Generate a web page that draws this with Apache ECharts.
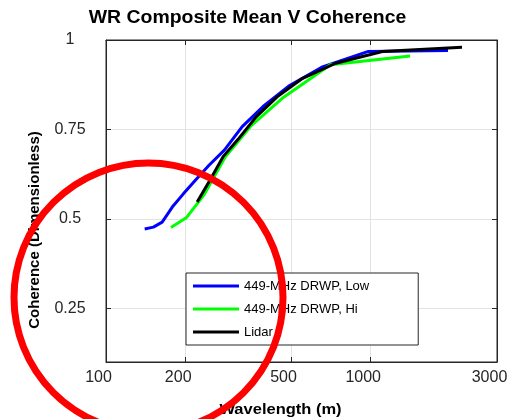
<!DOCTYPE html>
<html><head><meta charset="utf-8">
<script src="https://cdn.jsdelivr.net/npm/echarts@6/dist/echarts.min.js"></script>
<style>html,body{margin:0;padding:0;background:#fff}#c{width:511px;height:419px}</style>
</head><body><div id="c"></div>
<script>
const titleText = 'WR Composite Mean V Coherence';
const xAxisTitle = 'Wavelength (m)';
const yAxisTitle = 'Coherence (Dimensionless)';
const xTicks = [100, 200, 500, 1000, 3000];
const yTicks = [0.25, 0.5, 0.75, 1];
const seriesNames = ['449-MHz DRWP, Low', '449-MHz DRWP, Hi', 'Lidar'];
const seriesColors = ['#0000ff', '#00ff00', '#000000'];
const lowWavelength = [1959, 980, 653, 490, 392, 327, 280, 245, 218, 196, 178, 163, 151, 140];
const lowCoherence = [0.971, 0.968, 0.924, 0.871, 0.814, 0.758, 0.692, 0.650, 0.609, 0.570, 0.533, 0.491, 0.477, 0.472];
const hiWavelength = [1408, 704, 469, 352, 282, 235, 201, 176];
const hiCoherence = [0.955, 0.931, 0.840, 0.759, 0.673, 0.568, 0.503, 0.476];
const lidarWavelength = [2213, 1107, 738, 553, 443, 369, 316, 277, 246, 221];
const lidarCoherence = [0.980, 0.968, 0.935, 0.893, 0.841, 0.785, 0.723, 0.674, 0.606, 0.547];

const FONT = 'Liberation Sans, Arial, Helvetica, sans-serif';
const AX = '#262626';
function zip(xs, ys) { return xs.map((x, i) => [x, ys[i]]); }
const seriesData = [zip(lowWavelength, lowCoherence), zip(hiWavelength, hiCoherence), zip(lidarWavelength, lidarCoherence)];

const chart = echarts.init(document.getElementById('c'), null, {renderer: 'canvas'});
const option = {
  animation: false,
  backgroundColor: '#fff',
  grid: {left: 106, right: 14, top: 40, bottom: 57, show: true, borderColor: AX, borderWidth: 1, backgroundColor: 'transparent'},
  xAxis: [{
    type: 'log', logBase: 10, min: 100, max: 3000,
    axisLine: {show: true, lineStyle: {color: AX, width: 1}},
    axisTick: {show: true, inside: true, length: 5, customValues: xTicks, lineStyle: {color: AX}},
    axisLabel: {show: true, customValues: xTicks, formatter: v => String(v), fontSize: 16, fontFamily: FONT, color: AX, margin: 8, padding: [0, 15, 0, 0]},
    splitLine: {show: true, lineStyle: {color: '#e3e3e3', width: 1}},
    minorTick: {show: false}, minorSplitLine: {show: false}
  }, {
    type: 'log', logBase: 10, min: 100, max: 3000, position: 'top',
    axisLine: {show: true, lineStyle: {color: AX, width: 1}},
    axisTick: {show: true, inside: true, length: 5, customValues: xTicks, lineStyle: {color: AX}},
    axisLabel: {show: false}, splitLine: {show: false}
  }],
  yAxis: [{
    type: 'value', min: 0.1, max: 1,
    axisLine: {show: true, lineStyle: {color: AX, width: 1}},
    axisTick: {show: true, inside: true, length: 5, customValues: yTicks, lineStyle: {color: AX}},
    axisLabel: {show: true, customValues: yTicks, formatter: v => String(v), fontSize: 16, fontFamily: FONT, color: AX, margin: 36, align: 'center', padding: [0, 0, 7, 0]},
    splitLine: {show: true, lineStyle: {color: '#e3e3e3', width: 1}}
  }, {
    type: 'value', min: 0.1, max: 1, position: 'right',
    axisLine: {show: true, lineStyle: {color: AX, width: 1}},
    axisTick: {show: true, inside: true, length: 5, customValues: yTicks, lineStyle: {color: AX}},
    axisLabel: {show: false}, splitLine: {show: false}
  }],
  legend: {
    left: 186, top: 273, orient: 'vertical', icon: 'rect', itemWidth: 46, itemHeight: 3, itemGap: 7,
    padding: [5, 49, 5, 7], borderColor: AX, borderWidth: 1, borderRadius: 0, backgroundColor: '#fff',
    textStyle: {fontSize: 13, fontFamily: FONT, color: '#000', lineHeight: 16},
    data: seriesNames
  },
  series: seriesNames.map((name, i) => ({
    name: name, type: 'line', data: seriesData[i], symbol: 'none', showSymbol: false,
    color: seriesColors[i], lineStyle: {color: seriesColors[i], width: 3}, z: 3 + i
  })),
  graphic: [
    {type: 'text', x: 247.5, y: 18.5, scaleX: 1.08, style: {text: titleText, fontSize: 18, fontWeight: 'bold', fontFamily: FONT, fill: '#000', align: 'center', verticalAlign: 'middle'}},
    {type: 'text', x: 280.5, y: 410, scaleX: 1.1, style: {text: xAxisTitle, fontSize: 15, fontWeight: 'bold', fontFamily: FONT, fill: '#000', align: 'center', verticalAlign: 'middle'}},
    {type: 'text', x: 35, y: 230, rotation: Math.PI / 2, style: {text: yAxisTitle, fontSize: 15, fontWeight: 'bold', fontFamily: FONT, fill: '#000', align: 'center', verticalAlign: 'middle'}},
    {type: 'circle', z: 100, shape: {cx: 148.5, cy: 297.5, r: 134.5}, style: {fill: 'none', stroke: '#ff0000', lineWidth: 7}}
  ]
};
chart.setOption(option);
</script>
</body></html>
